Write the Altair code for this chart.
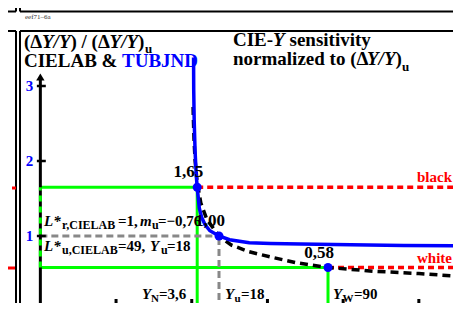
import altair as alt
import pandas as pd

FONT = "Liberation Serif"

# ---------------- data ----------------
blue_Y = [1.2, 1.3, 1.6, 2.2, 3.0, 3.6, 5.0, 6.5, 8.8, 12.0, 18.0, 25.0, 38.0, 52.0, 72.0, 105.0, 140.0, 178.0]
blue_v = [3.38, 2.95, 2.55, 2.13, 1.80, 1.65, 1.37, 1.25, 1.15, 1.07, 1.00, 0.95, 0.91, 0.90, 0.893, 0.882, 0.875, 0.87]
cielab_Y = [0.9, 1.0, 1.5, 2.2, 3.6, 6.0, 10.0, 18.0, 26.0, 38.0, 52.0, 70.0, 90.0, 120.0, 150.0, 178.0]
cielab_v = [2.72, 2.62, 2.29, 2.01, 1.71, 1.44, 1.22, 1.00, 0.88, 0.79, 0.72, 0.64, 0.58, 0.53, 0.50, 0.46]
point_Y = [3.6, 18.0, 90.0]
point_v = [1.65, 1.00, 0.58]
point_label = ["1,65", "1,00", "0,58"]
y_ticks = [0, 1, 2, 3]
y_tick_labels = ["0", "1", "2", "3"]
x_ticks = [-50, 0, 50, 100, 150]
top_ticks = [0, 50, 100, 150]
top_tick_labels = ["0", "50", "100", "150"]
axis_Y = -100.0
arrow_v = 3.12

# ---------------- scales ----------------
# plot area = page pixels 8..453 (x) and 8..303 (y)
XMIN, XMAX = -121.37, 172.56
XEND = 177.84
VMIN, VMAX = 0.1067, 4.04
W, H = 445, 295
xs = alt.Scale(domain=[XMIN, XMAX], nice=False, zero=False)
ys = alt.Scale(domain=[VMIN, VMAX], nice=False, zero=False)


def X(f):
    return alt.X(f, type="quantitative", scale=xs, axis=None)


def V(f):
    return alt.Y(f, type="quantitative", scale=ys, axis=None)


one = pd.DataFrame({"a": [0]})


def segs(rows):
    return pd.DataFrame(rows, columns=["x1", "x2", "y1", "y2"])


def rules(df, color, width, dash=None):
    kw = dict(color=color, strokeWidth=width, strokeCap="butt")
    if dash:
        kw["strokeDash"] = dash
    return alt.Chart(df).mark_rule(**kw).encode(
        x=X("x1"), x2="x2", y=V("y1"), y2="y2")


def prule(x1, x2, y1, y2, color="black", width=2):
    # page-pixel decoration line (page origin is 8px before chart origin)
    return alt.Chart(one).mark_rule(color=color, strokeWidth=width, strokeCap="butt").encode(
        x=alt.value(x1 - 8), x2=alt.value(x2 - 8), y=alt.value(y1 - 8), y2=alt.value(y2 - 8))


def txt(s, px, py, size=19, italic=False, color="black", weight="bold", align="left"):
    return alt.Chart(one).mark_text(
        text=s, font=FONT, fontSize=size, fontWeight=weight,
        fontStyle="italic" if italic else "normal", color=color,
        align=align, baseline="alphabetic").encode(
        x=alt.value(px - 8), y=alt.value(py - 8))


layers = []

# frames
layers += [
    prule(0, 16, 11.5, 11.5), prule(20, 461, 11.5, 11.5),
    prule(0, 16, 31, 31), prule(20, 461, 31, 31),
    prule(16, 16, 0, 11.5), prule(20, 20, 0, 11.5),
    prule(16, 16, 31, 311), prule(20, 20, 31, 311),
]
# fragments of the neighbouring panel on the left
layers += [
    prule(12, 16, 188, 188, color="red", width=3),
    prule(8, 15, 268, 268, color="red", width=3),
]
layers.append(txt("eef71\u20136a", 25, 19, size=7, weight="normal", color="#333333"))

# top panel tick labels
top_df = pd.DataFrame({"x": top_ticks, "t": top_tick_labels})
layers.append(alt.Chart(top_df).mark_text(font=FONT, fontSize=15, fontWeight="bold", color="blue",
                                          baseline="alphabetic").encode(
    x=X("x"), y=alt.value(0), text="t:N"))
layers.append(txt("Y", 430, 8, size=15, italic=True, color="blue"))

# green construction lines
green = segs([
    (axis_Y, point_Y[0], point_v[0], point_v[0]),
    (axis_Y, point_Y[2], point_v[2], point_v[2]),
    (point_Y[0], point_Y[0], 0, point_v[0]),
    (point_Y[2], point_Y[2], 0, point_v[2]),
])
layers.append(rules(green, "#00ff00", 3))

# gray dashed
gray = segs([
    (axis_Y, point_Y[1], point_v[1], point_v[1]),
    (point_Y[1], point_Y[1], 0, point_v[1]),
])
layers.append(rules(gray, "#888888", 3, [7, 4]))

# y axis line + ticks + arrow
layers.append(rules(segs([(axis_Y, axis_Y, 0, arrow_v)]), "black", 3))
layers.append(rules(segs([(axis_Y, axis_Y, point_v[2], point_v[0])]), "#00ff00", 3, [6, 5]))
layers.append(rules(segs([(axis_Y - 2.3, axis_Y + 3.6, t, t) for t in y_ticks]), "black", 2.5))
layers.append(alt.Chart(pd.DataFrame({"x": [axis_Y], "y": [arrow_v]})).mark_point(
    shape="triangle-up", filled=True, color="black", size=70, opacity=1).encode(x=X("x"), y=V("y")))
ylab = pd.DataFrame({"x": [axis_Y] * 4, "y": y_ticks, "t": y_tick_labels})
layers.append(alt.Chart(ylab).mark_text(font=FONT, fontSize=15, fontWeight="bold", color="blue",
                                        align="right", baseline="middle", dx=-7).encode(
    x=X("x"), y=V("y"), text="t:N"))

# x ticks at bottom
layers.append(rules(segs([(t, t, 0, 0.16) for t in x_ticks]), "black", 3))

# red dashed reference lines
red = segs([
    (point_Y[0], XEND, point_v[0], point_v[0]),
    (point_Y[2], XEND, point_v[2], point_v[2]),
])
layers.append(rules(red, "red", 3.5, [6, 4]))
red_lab = pd.DataFrame({"x": [XMAX, XMAX], "y": [point_v[0], point_v[2]], "t": ["black", "white"]})
layers.append(alt.Chart(red_lab).mark_text(font=FONT, fontSize=15, fontWeight="bold", color="red",
                                           align="right", baseline="alphabetic", dx=-1, dy=-5).encode(
    x=X("x"), y=V("y"), text="t:N"))

# CIELAB dashed curve
cdf = pd.DataFrame({"x": cielab_Y, "y": cielab_v, "i": range(len(cielab_Y))})
layers.append(alt.Chart(cdf).mark_line(color="black", strokeWidth=3.5, strokeDash=[8, 5]).encode(
    x=X("x"), y=V("y"), order="i:Q"))

# TUBJND blue curve
bdf = pd.DataFrame({"x": blue_Y, "y": blue_v, "i": range(len(blue_Y))})
layers.append(alt.Chart(bdf).mark_line(color="blue", strokeWidth=3.5).encode(
    x=X("x"), y=V("y"), order="i:Q"))

# points + value labels
pdf = pd.DataFrame({"x": point_Y, "y": point_v, "t": point_label})
layers.append(alt.Chart(pdf).mark_circle(color="blue", size=80, opacity=1).encode(x=X("x"), y=V("y")))
layers.append(alt.Chart(pdf).mark_text(font=FONT, fontSize=17, fontWeight="bold", color="black",
                                       align="right", baseline="alphabetic", dx=6, dy=-10).encode(
    x=X("x"), y=V("y"), text="t:N"))

# titles
layers += [
    txt("(\u0394", 24, 48), txt("Y/Y", 42, 48, italic=True), txt(")", 70.5, 48),
    txt("/", 81.5, 48), txt("(\u0394", 91.6, 48), txt("Y/Y", 109.6, 48, italic=True),
    txt(")", 138.1, 48), txt("u", 145, 53, size=13),
    txt("CIELAB & ", 24, 67), txt("TUBJND", 122, 67, color="blue"),
    txt("CIE-", 233, 46), txt("Y", 273, 46, italic=True), txt("sensitivity", 289.5, 46),
    txt("normalized to (\u0394", 233, 65), txt("Y/Y", 367, 65, italic=True), txt(")", 395.5, 65),
    txt("u", 402, 71, size=13),
]

# L* labels
layers += [
    txt("L*", 44, 226, size=15, italic=True), txt("r,CIELAB", 62, 229, size=12),
    txt("=1, ", 118, 226, size=15), txt("m", 140, 226, size=15, italic=True),
    txt("u", 152, 229, size=12), txt("=\u22120,76", 158, 226, size=15),
    txt("L*", 44, 251, size=15, italic=True), txt("u,CIELAB", 62, 254, size=12),
    txt("=49, ", 118, 251, size=15), txt("Y", 150, 251, size=15, italic=True),
    txt("u", 161, 254, size=12), txt("=18", 167, 251, size=15),
]

# bottom labels
BL, BS = 299, 302
layers += [
    txt("Y", 142, BL, size=15, italic=True), txt("N", 151, BS, size=11), txt("=3,6", 159, BL, size=15),
    txt("Y", 225, BL, size=15, italic=True), txt("u", 234.5, BS, size=11), txt("=18", 241, BL, size=15),
    txt("Y", 333, BL, size=15, italic=True), txt("W", 342.5, BS, size=11), txt("=90", 354, BL, size=15),
]

chart = alt.layer(*layers).properties(
    width=W, height=H, autosize="none", padding=0
).configure_view(stroke=None)

chart.save("out.html", embed_options={"renderer": "svg", "actions": False})
